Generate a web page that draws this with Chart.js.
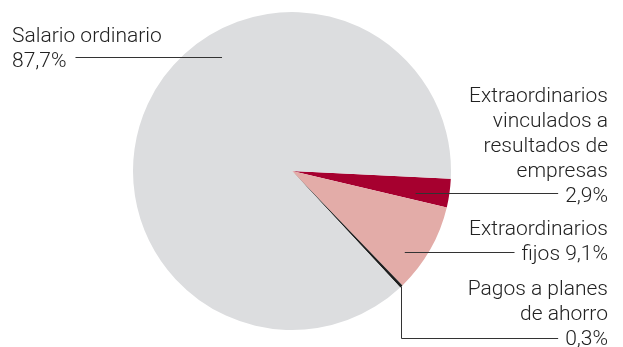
<!DOCTYPE html>
<html>
<head>
<meta charset="utf-8">
<script src="https://cdn.jsdelivr.net/npm/chart.js@4/dist/chart.umd.min.js"></script>
<style>
  body { margin: 0; background: #fff; }
  canvas { display: block; }
</style>
</head>
<body>
<canvas id="myChart" width="623" height="347"></canvas>
<script>
// slice order clockwise, starting a little below 3 o'clock
var categories = ['Extraordinarios vinculados a resultados de empresas', 'Extraordinarios fijos',
	'Pagos a planes de ahorro', 'Salario ordinario'];
var values = [2.9, 9.1, 0.3, 87.7];
var sliceColors = ['#a6002f', '#e3aca8', '#1e1e1e', '#dcdddf'];
// label text, {v} is replaced by the value of the slice
var labelLines = [
	['Extraordinarios', 'vinculados a', 'resultados de', 'empresas', '{v}'],
	['Extraordinarios', 'fijos {v}'],
	['Pagos a planes', 'de ahorro', '{v}'],
	['Salario ordinario', '{v}']
];

// where each label sits and where its leader touches the slice
var labelLayout = [
	{ align : 'right', x : 608, y : 102, at : 0.72, r : 0.79 },
	{ align : 'right', x : 608, y : 235, at : 0.69, r : 0.875 },
	{ align : 'right', x : 608, y : 295, at : 0.5, r : 1.0, elbow : 338 },
	{ align : 'left', x : 12, y : 42, at : 0.606, r : 0.84 }
];

function fmt(v) {
	return v.toFixed(1).replace('.', ',') + '%';
}

var leaderLabels = {
	id : 'leaderLabels',
	afterDatasetsDraw : function(chart) {
		var ctx = chart.ctx;
		var meta = chart.getDatasetMeta(0);
		ctx.save();
		ctx.font = '300 21px Roboto';
		ctx.fillStyle = '#222';
		ctx.strokeStyle = '#333';
		ctx.lineWidth = 1;
		for (var i = 0; i < values.length; i++) {
			var arc = meta.data[i];
			var lay = labelLayout[i];
			var lines = labelLines[i].map(function(s) {
				return s.replace('{v}', fmt(values[i]));
			});
			ctx.textAlign = lay.align;
			ctx.textBaseline = 'alphabetic';
			for (var k = 0; k < lines.length; k++) {
				ctx.fillText(lines[k], lay.x, lay.y + k * 25);
			}
			var ang = arc.startAngle + (arc.endAngle - arc.startAngle) * lay.at;
			var ax = arc.x + Math.cos(ang) * arc.outerRadius * lay.r;
			var ay = arc.y + Math.sin(ang) * arc.outerRadius * lay.r;
			var last = lines[lines.length - 1];
			var w = ctx.measureText(last).width;
			ctx.beginPath();
			if (lay.align == 'right') {
				var endX = lay.x - w - 7;
				if (lay.elbow) {
					var ex = Math.round(ax) + 0.5;
					ctx.moveTo(ex, ay);
					ctx.lineTo(ex, lay.elbow + 0.5);
					ctx.lineTo(endX, lay.elbow + 0.5);
				} else {
					var ly = Math.round(ay) + 0.5;
					ctx.moveTo(ax, ly);
					ctx.lineTo(endX, ly);
				}
			} else {
				var ly2 = Math.round(ay) + 0.5;
				ctx.moveTo(lay.x + w + 9, ly2);
				ctx.lineTo(ax, ly2);
			}
			ctx.stroke();
		}
		ctx.restore();
	}
};

var ctxD = document.getElementById('myChart').getContext('2d');
var myPie = new Chart(ctxD, {
	type : 'pie',
	data : {
		labels : categories,
		datasets : [ {
			data : values,
			backgroundColor : sliceColors,
			borderWidth : 0
		} ]
	},
	options : {
		responsive : false,
		animation : false,
		rotation : 92.8,
		layout : {
			padding : { left : 133, right : 172, top : 12, bottom : 17 }
		},
		plugins : {
			legend : { display : false },
			tooltip : { enabled : false }
		}
	},
	plugins : [ leaderLabels ]
});
</script>
</body>
</html>
